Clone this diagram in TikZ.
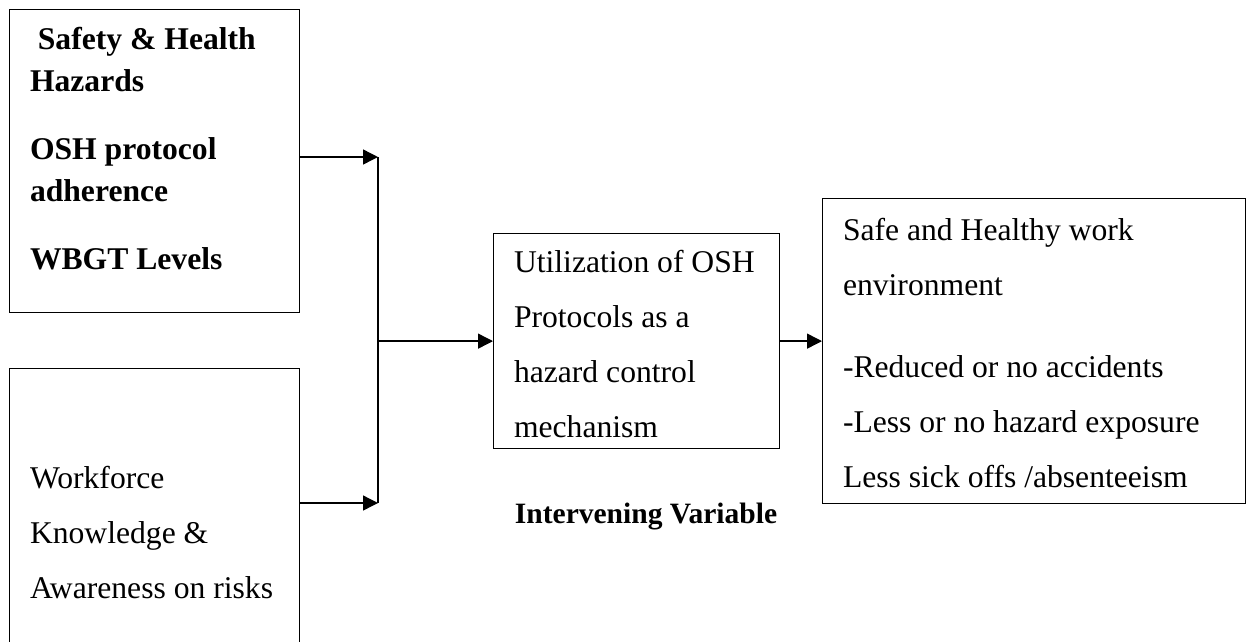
\documentclass[tikz,border=0pt]{standalone}
\usepackage{fontspec}
\setmainfont{Liberation Serif}
\usepackage{tikz}
\usetikzlibrary{positioning, arrows.meta}

\begin{document}
\begin{tikzpicture}[
    x=0.2mm, y=-0.2mm,
    box/.style={draw, rectangle, line width=0.7pt, anchor=north west, inner sep=0pt},
    txt/.style={align=left, inner sep=0pt, outer sep=0pt,
        font=\fontsize{18pt}{31.3pt}\selectfont},
    link/.style={line width=0.8pt},
    arr/.style={link, -{Triangle[length=3mm, width=3mm]}},
]
\clip (0,0) rectangle (1251,641);

% boxes
\node[box, minimum width=58mm, minimum height=60.6mm] (hz) at (9,9) {};
\node[box, minimum width=58mm, minimum height=66.4mm] (wk) at (9,368) {};
\node[box, minimum width=57.2mm, minimum height=43mm] (ut) at (493,233) {};
\node[box, minimum width=84.6mm, minimum height=61mm] (out) at (822,198) {};

% texts
\node[txt, below right=3.6mm and 4.2mm of hz.north west,
      font=\fontsize{18pt}{23.9pt}\selectfont\bfseries] (hz-t)
    {\ Safety \& Health\\Hazards\\[14.8pt]OSH protocol\\adherence\\[14.8pt]WBGT Levels};
\node[txt, below right=19.6mm and 4.2mm of wk.north west] (wk-t)
    {Workforce\\Knowledge \&\\Awareness on risks};
\node[txt, below right=3.5mm and 4.2mm of ut.north west] (ut-t)
    {Utilization of OSH\\Protocols as a\\hazard control\\mechanism};
\node[txt, below right=4mm and 4.2mm of out.north west] (out-t)
    {Safe and Healthy work\\environment\\[15.4pt]-Reduced or no accidents\\-Less or no hazard exposure\\Less sick offs /absenteeism};

\node[anchor=base, font=\fontsize{16.8pt}{20pt}\selectfont\bfseries] (iv) at (646,523)
    {Intervening Variable};

% connectors
\coordinate (jtop) at (378,157);
\coordinate (jbot) at (378,503);

\draw[arr] (hz.east |- jtop) -- (jtop);
\draw[arr] (wk.east |- jbot) -- (jbot);
\draw[link] (jtop) -- (jbot);
\draw[arr] (jtop |- ut.west) -- (ut.west);
\draw[arr] (ut.east) -- (ut.east -| out.west);
\end{tikzpicture}
\end{document}
